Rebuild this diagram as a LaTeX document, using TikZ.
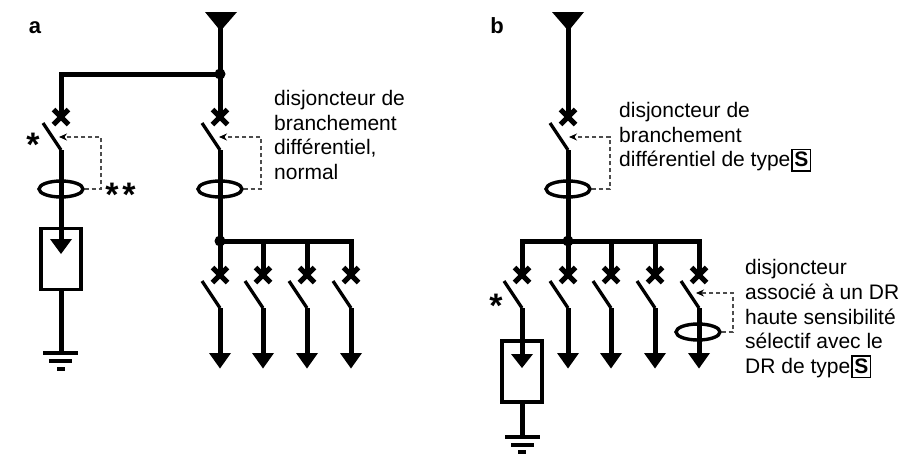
\documentclass[tikz,border=0pt]{standalone}
\usepackage{fontspec}
\setmainfont{Liberation Sans}
\usetikzlibrary{shapes.geometric,arrows.meta}
\tikzset{
wire/.style={line width=5pt},
bladeline/.style={line width=3.2pt},
crossline/.style={line width=5pt},
ringnode/.style={draw, ellipse, line width=3.4pt, minimum width=44pt, minimum height=16pt, inner sep=0pt},
boxnode/.style={draw, line width=3.7pt, minimum width=40pt, minimum height=61pt, inner sep=0pt},
earthline/.style={line width=3.2pt},
sense/.style={dash pattern=on 4.5pt off 2.5pt, line width=1.1pt, black!70, -{Stealth[length=8pt,width=7pt,black]}},
legend/.style={align=left, anchor=west, inner sep=0pt, font=\fontsize{21}{24.6}\selectfont},
panel/.style={anchor=base, inner sep=0pt, font=\bfseries\fontsize{22}{24}\selectfont},
starmark/.style={anchor=base, inner sep=0pt, font=\bfseries\fontsize{34}{34}\selectfont}
}
\newcommand{\typeS}{\setlength{\fboxsep}{1.5pt}\setlength{\fboxrule}{1.5pt}\kern1pt\fbox{\rule[-2pt]{0pt}{17pt}\textbf{S}}}
\begin{document}
\begin{tikzpicture}[x=1pt,y=-1pt]
\useasboundingbox (0,0) rectangle (913,453);
% a
\node[panel] (pa) at (35,33) {a};
\coordinate (asrc) at (220,12);
\coordinate (ajoin) at (220,74);
\coordinate (aleft) at (61,74);
\coordinate (abus) at (220,241);
\coordinate (aend) at (351,241);
\fill (205,12)--(237,12)--(220.5,31)--cycle;
\draw[wire] (asrc)--(ajoin)--(220,117);
\draw[wire, line join=miter] (ajoin)--(aleft)--(61,117);
\fill (ajoin) circle[radius=5.5];
\draw[wire] (220,150)--(abus)--(220,275);
\draw[wire, line join=miter] (abus)--(aend)--(351,275);
\fill (abus) circle[radius=5.5];
\foreach \x in {61,220}{
\draw[crossline] (\x-7.5,109.5)--(\x+7.5,124.5);
\draw[crossline] (\x+7.5,109.5)--(\x-7.5,124.5);
\draw[bladeline] (\x-18,123)--(\x,150);
}
\draw[wire] (61,150)--(61,228);
% a, differential rings
\node[ringnode] (ra1) at (61,189) {};
\node[ringnode] (ra2) at (220,189) {};
\draw[sense] (ra1.east)--(101,189)--(101,137)--(59,137);
\draw[sense] (ra2.east)--(261,189)--(261,137)--(219,137);
% a, feeders
\foreach \x in {263,307}{
\draw[wire] (\x,241)--(\x,275);
}
\foreach \x in {220,263,307,351}{
\draw[crossline] (\x-7.5,267.5)--(\x+7.5,282.5);
\draw[crossline] (\x+7.5,267.5)--(\x-7.5,282.5);
\draw[bladeline] (\x-18,281)--(\x,308);
\draw[wire] (\x,308)--(\x,356);
\fill (\x-11,353)--(\x+11,353)--(\x,368.5)--cycle;
}
% a, box and earth
\node[boxnode] (ba) at (61,259) {};
\coordinate (ea) at (61,353);
\draw[wire] (ba.north)--(61,242);
\fill (50,239)--(72,239)--(61,254)--cycle;
\draw[wire] (ba.south)--(ea);
\draw[earthline] (43,353)--(78,353);
\draw[earthline] (49,361)--(72,361);
\draw[earthline] (57,369)--(65,369);
\node[starmark] (sa1) at (33,156) {*};
\node[starmark] (sa2) at (120.5,206) {*\kern4pt*};
\node[legend] (ta) at (274,135) {disjoncteur de\\branchement\\différentiel,\\normal};
% b
\node[panel] (pb) at (497,33) {b};
\coordinate (bsrc) at (568,12);
\coordinate (bbus) at (568,241);
\coordinate (bleft) at (522,241);
\coordinate (bright) at (699,241);
\fill (552,12)--(584,12)--(568.5,31)--cycle;
\draw[wire] (bsrc)--(568,117);
\draw[crossline] (560.5,109.5)--(575.5,124.5);
\draw[crossline] (575.5,109.5)--(560.5,124.5);
\draw[bladeline] (550,123)--(568,150);
\draw[wire] (568,150)--(bbus)--(568,275);
\draw[wire, line join=miter] (522,275)--(bleft)--(bright)--(699,275);
\fill (bbus) circle[radius=5.5];
\node[ringnode] (rb1) at (568,189) {};
\draw[sense] (rb1.east)--(610,189)--(610,137)--(569,137);
\foreach \x in {611,655}{
\draw[wire] (\x,241)--(\x,275);
}
\foreach \x in {522,568,611,655,699}{
\draw[crossline] (\x-7.5,267.5)--(\x+7.5,282.5);
\draw[crossline] (\x+7.5,267.5)--(\x-7.5,282.5);
\draw[bladeline] (\x-18,281)--(\x,308);
}
\foreach \x in {568,611,655,699}{
\draw[wire] (\x,308)--(\x,356);
\fill (\x-11,353)--(\x+11,353)--(\x,368.5)--cycle;
}
\node[ringnode] (rb2) at (698,332) {};
\draw[sense] (rb2.east)--(733,332)--(733,293)--(696,293);
% b, box and earth
\draw[wire] (522,308)--(522,341);
\node[boxnode] (bb) at (522,371.5) {};
\coordinate (eb) at (522,437);
\draw[wire] (bb.north)--(522,356);
\fill (511,354)--(533,354)--(522,368)--cycle;
\draw[wire] (bb.south)--(eb);
\draw[earthline] (505,437)--(540,437);
\draw[earthline] (511,445)--(534,445);
\draw[earthline] (518,452)--(526,452);
\node[starmark] (sb1) at (496,317) {*};
\node[legend] (tb1) at (619,137) {disjoncteur de\\branchement\\différentiel de type\typeS};
\node[legend] (tb2) at (745,319) {disjoncteur\\associé à un DR\\haute sensibilité\\sélectif avec le\\DR de type\typeS};
\end{tikzpicture}
\end{document}
